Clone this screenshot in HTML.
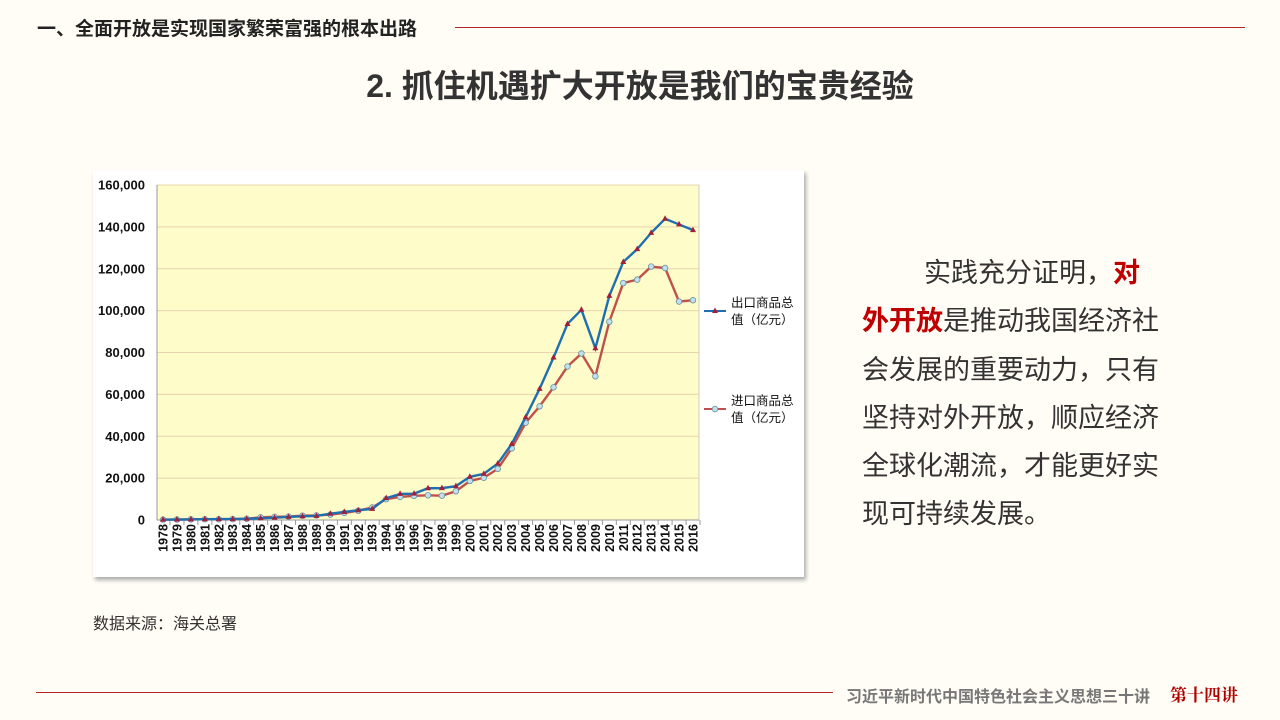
<!DOCTYPE html>
<html><head><meta charset="utf-8">
<style>
body{margin:0;width:1280px;height:720px;background:#fffdf5;overflow:hidden;font-family:"Liberation Sans","Noto Sans CJK SC",sans-serif;position:relative}
.abs{position:absolute}
</style></head><body>
<div class="abs" style="left:37px;top:14px;font-size:19px;font-weight:bold;color:#222;white-space:nowrap">一、全面开放是实现国家繁荣富强的根本出路</div>
<div class="abs" style="left:455px;top:27px;width:790px;height:1px;background:#b22"></div>
<div class="abs" style="left:0;width:1280px;top:61px;text-align:center;font-size:32px;font-weight:bold;color:#333">2. 抓住机遇扩大开放是我们的宝贵经验</div>
<div class="abs" style="left:93px;top:170px;width:711px;height:407px;background:#fff;box-shadow:2px 3px 4px #aaa"></div>
<svg class="abs" style="left:0;top:0" width="1280" height="720" id="chart"></svg>
<div class="abs" style="left:93px;top:610px;font-size:16px;color:#333">数据来源：海关总署</div>
<div class="abs" style="left:862px;top:249px;width:304px;font-size:27px;line-height:48.3px;color:#333;text-indent:62px">实践充分证明，<b style="color:#c00000">对外开放</b>是推动我国经济社会发展的重要动力，只有坚持对外开放，顺应经济全球化潮流，才能更好实现可持续发展。</div>
<div class="abs" style="left:36px;top:692px;width:797px;height:1px;background:#b22"></div>
<div class="abs" style="left:846px;top:683px;font-size:16px;font-weight:bold;color:#777;white-space:nowrap">习近平新时代中国特色社会主义思想三十讲</div>
<div class="abs" style="left:1170px;top:681px;font-size:17px;font-weight:bold;color:#b00000;font-family:'Noto Serif CJK SC',serif;white-space:nowrap">第十四讲</div>
<script>
const years=[];for(let y=1978;y<=2016;y++)years.push(y);
const exportsV=[168,212,271,368,414,438,581,809,1082,1470,1767,1956,2986,3827,4676,5285,10422,12452,12576,15161,15224,16160,20634,22024,26948,36288,49103,62648,77598,93627,100395,82030,107023,123241,129359,137131,143884,141167,138455];
const importsV=[187,243,299,368,358,422,620,1258,1498,1614,2055,2200,2574,3399,4443,5986,9960,11048,11557,11807,11626,13736,18639,20159,24430,34196,46436,54274,63377,73300,79527,68618,94700,113161,114801,121037,120358,104336,104967];
const yTicks=[0,20000,40000,60000,80000,100000,120000,140000,160000];
const NS='http://www.w3.org/2000/svg',svg=document.getElementById('chart');
const L=157,R=699,T=185,B=520;
const x=i=>163+i*(693-163)/(years.length-1);
const y=v=>B-v/160000*(B-T);
function el(t,a,p){const e=document.createElementNS(NS,t);for(const k in a)e.setAttribute(k,a[k]);(p||svg).appendChild(e);return e;}
const bg=el('rect',{x:L,y:T,width:R-L,height:B-T,fill:'#fefcc8',stroke:'#ccc'});


yTicks.forEach(v=>{
 const g=el('line',{x1:L,x2:R,y1:y(v),y2:y(v),stroke:'#e8d4b0','stroke-width':1});
 
 
 const t=el('text',{x:L-12,y:y(v)+4.5,'text-anchor':'end','font-size':13,'font-weight':'bold',fill:'#111','font-family':'Liberation Sans'});
 t.textContent=v.toLocaleString('en-US');
 
 
});
el('line',{x1:L,x2:L,y1:T,y2:B,stroke:'#999'});
el('line',{x1:L,x2:R,y1:B,y2:B,stroke:'#999'});
years.forEach((yr,i)=>{
 const xx=x(i);
 el('line',{x1:xx+7,x2:xx+7,y1:B,y2:B+5,stroke:'#999'});
 const t=el('text',{x:0,y:0,transform:`translate(${xx+4.5},${B+4}) rotate(-90)`,'text-anchor':'end','font-size':12.5,'font-weight':'bold',fill:'#111','font-family':'Liberation Sans'});
 t.textContent=yr;
 
 
});
function series(vals,color,marker,name){
 const p=el('polyline',{points:vals.map((v,i)=>x(i)+','+y(v)).join(' '),fill:'none',stroke:color,'stroke-width':2.4});
 
 
 vals.forEach((v,i)=>{
  const cx=x(i),cy=y(v);let m;
  if(marker==='tri')m=el('polygon',{points:`${cx},${cy-3.5} ${cx-3},${cy+2} ${cx+3},${cy+2}`,fill:'#a0203a'});
  else m=el('circle',{cx,cy,r:2.8,fill:'#bfe0ee',stroke:'#6a8fa0','stroke-width':0.8});
  
  
 });
}
series(importsV,'#c0504d','dot','imports');
series(exportsV,'#1f6fb0','tri','exports');
function legend(yy,color,marker,l1,l2,name){
 el('line',{x1:704,x2:726,y1:yy,y2:yy,stroke:color,'stroke-width':2});
 if(marker==='tri')el('polygon',{points:`715,${yy-3.5} 712,${yy+2} 718,${yy+2}`,fill:'#a0203a'});
 else el('circle',{cx:715,cy:yy,r:2.8,fill:'#bfe0ee',stroke:'#6a8fa0','stroke-width':0.8});
 const t1=el('text',{x:731,y:yy-4,'font-size':12.5,fill:'#111','font-family':'Noto Sans CJK SC'});t1.textContent=l1;
 
 
 const t2=el('text',{x:731,y:yy+13,'font-size':12.5,fill:'#111','font-family':'Noto Sans CJK SC'});t2.textContent=l2;
}
legend(311,'#1f6fb0','tri','出口商品总','值（亿元）','exports');
legend(409,'#c0504d','dot','进口商品总','值（亿元）','imports');
</script>
</body></html>
